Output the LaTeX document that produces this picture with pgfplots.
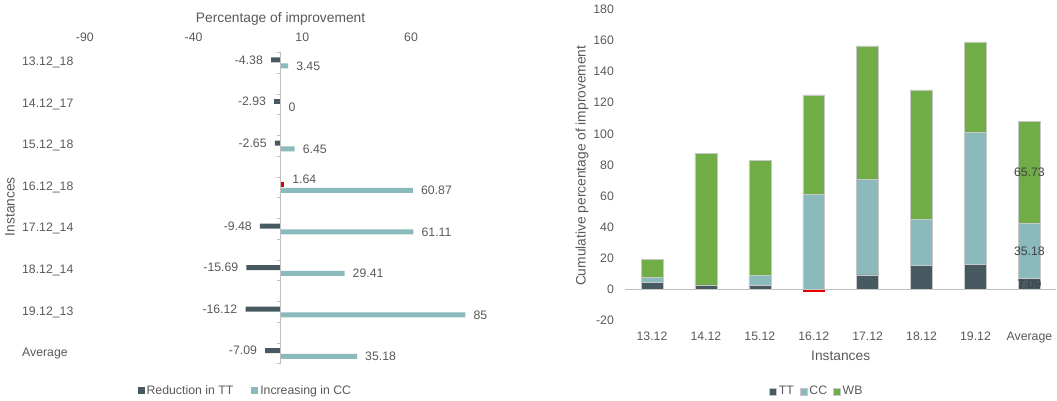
\documentclass[border=0pt]{standalone}
\usepackage{pgfplots}
\usepackage{pgfplotstable}
\pgfplotsset{compat=1.18}
\usepackage{fontspec}
\setmainfont{Liberation Sans}

\definecolor{ttcol}{HTML}{475A61}
\definecolor{cccol}{HTML}{8BBABD}
\definecolor{wbcol}{HTML}{70AD47}
\definecolor{negcol}{HTML}{E00000}
\definecolor{txt}{HTML}{595959}
\definecolor{axcol}{HTML}{BFBFBF}
\definecolor{barline}{HTML}{C8C8C8}

\newcommand\ticksize{\fontsize{12.3}{14}\selectfont}
\newcommand\titlesize{\fontsize{13.8}{16}\selectfont}

% Stacked contributions per instance (TT of 16.12 is negative, drawn apart)
\pgfplotstableread{
x tt cc wb ttl ccl wbl
1 4.38 3.45 11.4 {} {} {}
2 2.93 0 84.3 {} {} {}
3 2.65 6.45 73.8 {} {} {}
4 0 60.87 64.1 {} {} {}
5 9.48 61.11 85.8 {} {} {}
6 15.69 29.41 83.1 {} {} {}
7 16.12 85 57.9 {} {} {}
8 7.09 35.18 65.73 7.09 35.18 65.73
}\stacktable

\pgfplotsset{
  sqlegend/.style={legend image code/.code={\fill[##1] (0pt,-3.5pt) rectangle (7pt,3.5pt);}},
  segment label/.style={only marks, mark=none, point meta=explicit symbolic,
    nodes near coords, nodes near coords style={font=\ticksize, text={black!75},
    inner sep=0pt, anchor=center}},
}

\begin{document}
\begin{tikzpicture}
\path (0,0) rectangle (1057pt,-401pt);

% ---------------- left: improvement per instance ----------------
\begin{axis}[
  at={(85pt,-42.2pt)}, anchor=north west,
  scale only axis, width=392pt, height=332.6pt,
  xmin=-90, xmax=90, ymin=0.5, ymax=8.5,
  axis line style={draw=none},
  major tick length=0pt,
  xtick={-90,-40,10,60},
  xticklabel pos=upper,
  xticklabel style={anchor=south, inner sep=0pt, yshift=0.5pt},
  ytick={1,...,8},
  yticklabels={Average,19.12\_13,18.12\_14,17.12\_14,16.12\_18,15.12\_18,14.12\_17,13.12\_18},
  yticklabel style={anchor=west, inner sep=0pt, xshift=-63pt},
  tick label style={font=\ticksize, text=txt},
  /pgf/number format/assume math mode=true,
  xbar, bar width=5pt,
  clip=false,
  nodes near coords={\pgfmathprintnumber{\pgfplotspointmeta}},
  nodes near coords style={font=\ticksize, text=txt, inner xsep=8pt, inner ysep=0pt},
  sqlegend,
  legend columns=2,
  legend style={at={(axis description cs:0.410,-0.0487)}, anchor=center,
    draw=none, fill=none, font=\ticksize, text=txt,
    nodes={inner xsep=2pt, inner ysep=0pt},
    /tikz/every even column/.append style={column sep=16pt}},
]
\addplot[fill=ttcol, draw=none, bar shift=2.9pt] coordinates
  {(-4.38,8) (-2.93,7) (-2.65,6) (-9.48,4) (-15.69,3) (-16.12,2) (-7.09,1)};
\addlegendentry{Reduction in TT}
\addplot[fill=cccol, draw=none, bar shift=-2.9pt] coordinates
  {(3.45,8) (0,7) (6.45,6) (60.87,5) (61.11,4) (29.41,3) (85,2) (35.18,1)};
\addlegendentry{Increasing in CC}
\addplot[fill=negcol, draw=none, bar shift=2.9pt, forget plot,
  nodes near coords style={yshift=5.5pt}] coordinates {(1.64,5)};
% zero line with its small ticks
\draw[axcol, line width=1.3pt] (axis cs:0,0.75) -- (axis cs:0,8.25);
\pgfplotsinvokeforeach{0.75,1.25,1.75,2.25,2.75,3.25,3.75,4.25,4.75,5.25,5.75,6.25,6.75,7.25,7.75,8.25}{
  \draw[axcol, line width=0.8pt] (axis cs:-1.5,#1) -- (axis cs:0,#1);
}
\end{axis}
\node[font=\titlesize, text=txt] at (281pt,-19pt) {Percentage of improvement};
\node[font=\titlesize, text=txt, rotate=90] at (10pt,-207pt) {Instances};

% ---------------- right: cumulative improvement ----------------
\begin{axis}[
  at={(626pt,-9.2pt)}, anchor=north west,
  scale only axis, width=432pt, height=312pt,
  xmin=0.5, xmax=8.5, ymin=-20, ymax=180,
  ybar stacked, bar width=22pt,
  axis line style={draw=none},
  major tick length=0pt,
  xtick={1,...,8},
  xticklabels={13.12,14.12,15.12,16.12,17.12,18.12,19.12,Average},
  xticklabel style={anchor=north, inner sep=0pt, yshift=-11pt},
  ytick={-20,0,20,40,60,80,100,120,140,160,180},
  yticklabel style={anchor=east, inner sep=0pt, xshift=-11pt},
  tick label style={font=\ticksize, text=txt},
  /pgf/number format/assume math mode=true,
  clip=false,
  sqlegend,
  legend columns=3,
  legend style={at={(axis description cs:0.445,-0.227)}, anchor=center,
    draw=none, fill=none, font=\ticksize, text=txt,
    nodes={inner xsep=2pt, inner ysep=0pt},
    /tikz/every even column/.append style={column sep=4pt}},
]
\addplot[fill=ttcol, draw=barline, line width=0.5pt] table[x=x, y=tt] {\stacktable};
\addlegendentry{TT}
\addplot[fill=cccol, draw=barline, line width=0.5pt] table[x=x, y=cc] {\stacktable};
\addlegendentry{CC}
\addplot[fill=wbcol, draw=barline, line width=0.5pt] table[x=x, y=wb] {\stacktable};
\addlegendentry{WB}
\draw[axcol, line width=1.3pt] (axis cs:0.5,0) -- (axis cs:8.5,0);
\end{axis}
% negative TT of 16.12 and the segment labels, on the same frame
\begin{axis}[
  at={(626pt,-9.2pt)}, anchor=north west,
  scale only axis, width=432pt, height=312pt,
  xmin=0.5, xmax=8.5, ymin=-20, ymax=180,
  hide axis, clip=false,
]
\addplot[ybar, bar width=22pt, fill=negcol, draw=none, bar shift=0pt] coordinates {(4,-1.64)};
\addplot[segment label] table[x=x, y expr=\thisrow{tt}/2, meta=ttl] {\stacktable};
\addplot[segment label] table[x=x, y expr=\thisrow{tt}+\thisrow{cc}/2, meta=ccl] {\stacktable};
\addplot[segment label] table[x=x, y expr=\thisrow{tt}+\thisrow{cc}+\thisrow{wb}/2, meta=wbl] {\stacktable};
\end{axis}
\node[font=\titlesize, text=txt] at (842pt,-356.7pt) {Instances};
\node[font=\titlesize, text=txt, rotate=90] at (583pt,-166pt) {Cumulative percentage of improvement};
\end{tikzpicture}
\end{document}
